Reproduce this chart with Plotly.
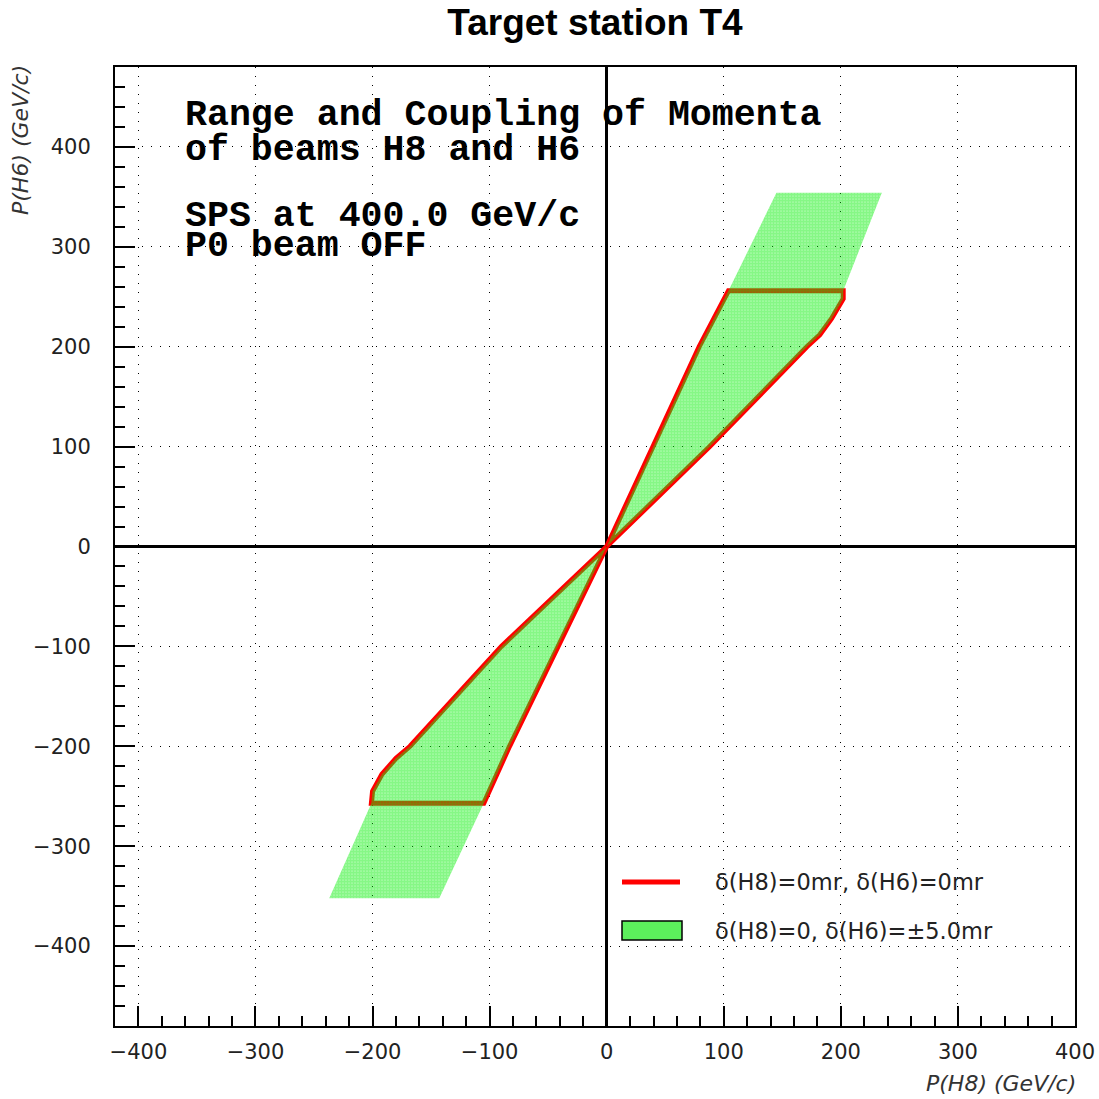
import plotly.graph_objects as go

# ---- data (P(H8), P(H6) in GeV/c) ----
# red contour: delta(H8)=0mr, delta(H6)=0mr  (upper lobe, then lower lobe)
red_up_h8 = [0, 40, 79, 104, 202, 202, 192, 182, 171, 88, 0]
red_up_h6 = [0, 100, 200, 256, 256, 248, 228, 212, 200, 100, 0]
red_lo_h8 = [0, -42, -83, -105, -201, -200, -192, -180, -168, -90, 0]
red_lo_h6 = [0, -100, -200, -257, -257, -245, -228, -212, -200, -100, 0]

# green band: delta(H8)=0, delta(H6)=+-5.0mr
grn_up_h8 = [0, 40, 79, 104, 145, 235, 202, 202, 192, 182, 171, 88, 0]
grn_up_h6 = [0, 100, 200, 256, 354, 354, 256, 248, 228, 212, 200, 100, 0]
grn_lo_h8 = [0, -42, -83, -105, -143, -237, -201, -200, -192, -180, -168, -90, 0]
grn_lo_h6 = [0, -100, -200, -257, -352, -352, -257, -245, -228, -212, -200, -100, 0]

x_ticks = [-400, -300, -200, -100, 0, 100, 200, 300, 400]
x_ticktext = ["\u2212400", "\u2212300", "\u2212200", "\u2212100", "0", "100", "200", "300", "400"]
y_ticks = [-400, -300, -200, -100, 0, 100, 200, 300, 400]
y_ticktext = ["\u2212400", "\u2212300", "\u2212200", "\u2212100", "0", "100", "200", "300", "400"]

legend_red = "\u03b4(H8)=0mr, \u03b4(H6)=0mr"
legend_grn = "\u03b4(H8)=0, \u03b4(H6)=\u00b15.0mr"

pattern = dict(shape=".", size=3, solidity=0.85, fgcolor="#0ef00e", bgcolor="rgba(0,0,0,0)", fillmode="overlay")

fig = go.Figure()
fig.add_trace(go.Scatter(
    x=red_up_h8 + [None] + red_lo_h8, y=red_up_h6 + [None] + red_lo_h6,
    mode="lines", line=dict(color="#ff0000", width=5), name=legend_red,
    showlegend=False, hoverinfo="skip"))
fig.add_trace(go.Scatter(
    x=grn_up_h8 + [None] + grn_lo_h8, y=grn_up_h6 + [None] + grn_lo_h6,
    mode="lines", fill="toself", line=dict(width=0, color="rgba(0,0,0,0)"),
    fillcolor="rgba(0,0,0,0)", fillpattern=pattern, name=legend_grn,
    showlegend=False, hoverinfo="skip"))

axis_common = dict(
    showline=True, linecolor="black", linewidth=2, mirror=True,
    ticks="inside", ticklen=20, tickwidth=1.5, tickcolor="black",
    showgrid=True, gridcolor="black", gridwidth=1, griddash="1px,8px",
    zeroline=True, zerolinecolor="black", zerolinewidth=3,
    tickfont=dict(family="DejaVu Sans", size=21, color="#222"),
    minor=dict(ticks="inside", ticklen=10, tickwidth=1.5, tickcolor="black", tick0=0, dtick=20, showgrid=False),
    tickmode="array", automargin=False,
)

fig.update_xaxes(range=[-420, 400], tickvals=x_ticks, ticktext=x_ticktext, ticklabelstandoff=6, **axis_common)
fig.update_yaxes(range=[-480, 480], tickvals=y_ticks, ticktext=y_ticktext, ticklabelstandoff=18, **axis_common)


def px_x(px):
    return (px - 115) / 960


def px_y(py):
    return (1026 - py) / 959


ann = []
courier = dict(family="Liberation Mono", size=36.6, color="black")
for txt, ypx in [("<b>Range and Coupling of Momenta</b>", 115),
                 ("<b>of beams H8 and H6</b>", 150),
                 ("<b>SPS at 400.0 GeV/c</b>", 216),
                 ("<b>P0 beam OFF</b>", 246)]:
    ann.append(dict(text=txt, xref="paper", yref="paper",
                    x=px_x(183), y=px_y(ypx),
                    xanchor="left", yanchor="middle", showarrow=False, font=courier))
ann.append(dict(text="<i>P(H8) (GeV/c)</i>", xref="paper", yref="paper",
                x=px_x(1078), y=px_y(1083), xanchor="right", yanchor="middle",
                showarrow=False, font=dict(family="DejaVu Sans", size=22, color="#333")))
ann.append(dict(text="<i>P(H6) (GeV/c)</i>", xref="paper", yref="paper",
                x=px_x(20), y=px_y(63), xanchor="center", yanchor="top", textangle=-90,
                showarrow=False, font=dict(family="DejaVu Sans", size=22, color="#333")))

# legend (drawn as a ROOT-style box-less legend)
leg_font = dict(family="DejaVu Sans", size=22.5, color="#222")
ann.append(dict(text=legend_red, xref="paper", yref="paper", x=px_x(713), y=px_y(882),
                xanchor="left", yanchor="middle", showarrow=False, font=leg_font))
ann.append(dict(text=legend_grn, xref="paper", yref="paper", x=px_x(713), y=px_y(931),
                xanchor="left", yanchor="middle", showarrow=False, font=leg_font))
shapes = [
    dict(type="line", xref="paper", yref="paper", x0=px_x(622), x1=px_x(680), y0=px_y(882), y1=px_y(882),
         line=dict(color="#ff0000", width=5)),
    dict(type="rect", xref="paper", yref="paper", x0=px_x(622), x1=px_x(682), y0=px_y(940), y1=px_y(921),
         line=dict(color="black", width=1.5), fillcolor="#5cf05c"),
]

fig.update_layout(
    width=1099, height=1099,
    margin=dict(l=115, r=24, t=67, b=73),
    paper_bgcolor="white", plot_bgcolor="white",
    showlegend=False,
    title=dict(text="<b>Target station T4</b>", x=595 / 1099, xanchor="center",
               y=1 - 22 / 1099, yanchor="middle",
               font=dict(family="Liberation Sans", size=37, color="black")),
    annotations=ann, shapes=shapes,
)

fig.write_html("out.html")
